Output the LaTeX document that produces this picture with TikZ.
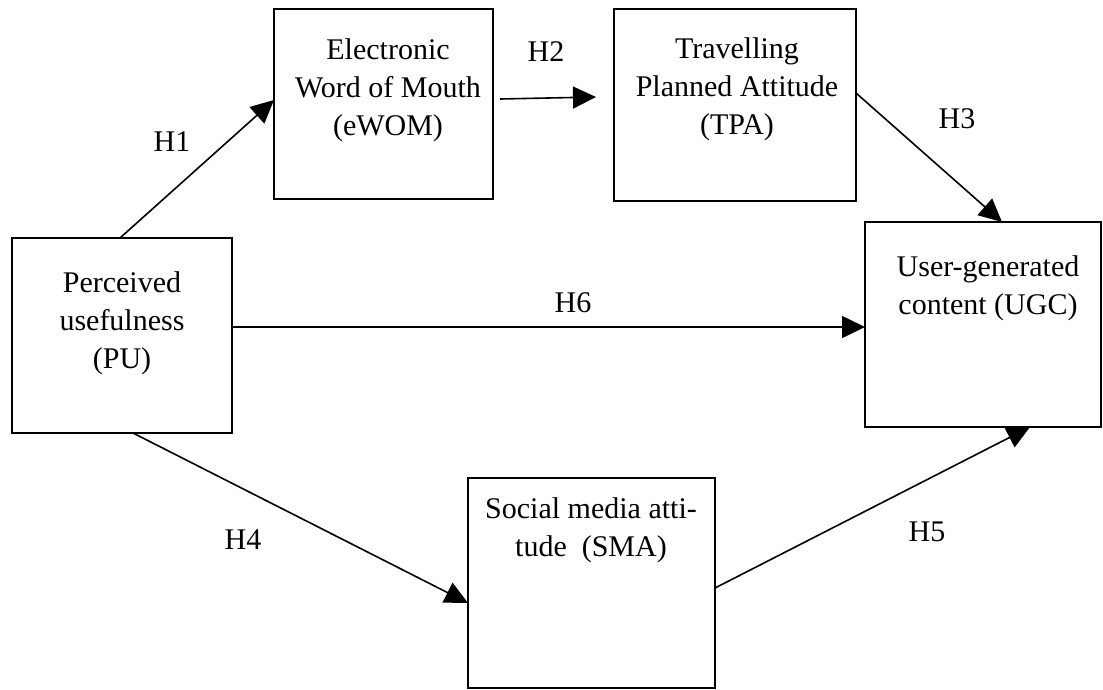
\documentclass[tikz,border=0pt]{standalone}
\usepackage{fontspec}
\setmainfont{Liberation Serif}
\usetikzlibrary{arrows.meta,calc}
\begin{document}
\begin{tikzpicture}[x=1pt,y=-1pt,
  box/.style={draw=black,line width=1.6pt,fill=white,inner sep=0pt,outer sep=0pt,anchor=north west},
  txt/.style={align=center,inner sep=0pt,font=\fontsize{30}{38}\selectfont},
  hlab/.style={inner sep=0pt,font=\fontsize{30}{38}\selectfont},
  arr/.style={line width=1.6pt,-{Triangle[length=23pt,width=22pt]}}]
\useasboundingbox (0,0) rectangle (1103,689);
% boxes
\node[box,minimum width=219pt,minimum height=190pt] (ewom) at (274,9) {};
\node[box,minimum width=242pt,minimum height=192pt] (tpa) at (614,9) {};
\node[box,minimum width=220pt,minimum height=195pt] (pu) at (12,238) {};
\node[box,minimum width=236pt,minimum height=205pt] (ugc) at (865,222) {};
\node[box,minimum width=247pt,minimum height=210pt] (sma) at (468,478) {};
% texts
\node[txt] (ewomt) at (388,90) {Electronic\\Word of Mouth\\(eWOM)};
\node[txt] (tpat) at (737,89) {Travelling\\Planned Attitude\\(TPA)};
\node[txt] (put) at (122,323) {Perceived\\usefulness\\(PU)};
\node[txt] (ugct) at (988,288) {User-generated\\content (UGC)};
\node[txt] (smat) at (591,530) {Social media atti-\\tude\ \ (SMA)};
% connectors
\draw[arr] ($(pu.north west)+(108,0)$) -- ($(ewom.north west)+(0,91)$);
\draw[arr] ($(ewom.east)+(7,-5)$) -- ($(tpa.west)+(-18,-8)$);
\draw[arr] ($(tpa.north east)+(0,84)$) -- ($(ugc.north west)+(137,0)$);
\draw[arr] ($(pu.east)+(0,-8.5)$) -- ($(ugc.west)+(0,2.5)$);
\draw[arr] ($(pu.south west)+(121,0)$) -- ($(sma.north west)+(0,125)$);
\draw[arr] ($(sma.north east)+(0,110)$) -- ($(ugc.south west)+(165,0)$);
% labels
\node[hlab] (h1) at (172,142) {H1};
\node[hlab] (h2) at (546,52) {H2};
\node[hlab] (h3) at (957,119) {H3};
\node[hlab] (h4) at (243,540) {H4};
\node[hlab] (h5) at (927,532) {H5};
\node[hlab] (h6) at (573,303) {H6};
\end{tikzpicture}
\end{document}
